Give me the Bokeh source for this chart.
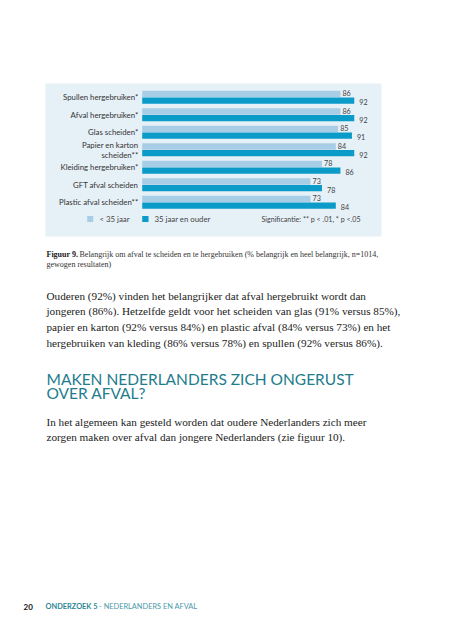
from bokeh.plotting import figure
from bokeh.models import Range1d, ColumnDataSource
from bokeh.core.properties import value
from bokeh.embed import file_html
from bokeh.resources import INLINE

# ---- data ----
categories = ["Spullen hergebruiken*", "Afval hergebruiken*", "Glas scheiden*",
              "Papier en karton\nscheiden**", "Kleiding hergebruiken*",
              "GFT afval scheiden", "Plastic afval scheiden**"]
young = [86, 86, 85, 84, 78, 73, 73]
older = [92, 92, 91, 92, 86, 78, 84]
legend_labels = ["< 35 jaar", "35 jaar en ouder"]
signif = "Significantie: ** p < .01, * p <.05"

caption_bold = "Figuur 9."
caption_lines = ["Belangrijk om afval te scheiden en te hergebruiken (% belangrijk en heel belangrijk, n=1014,",
                 "gewogen resultaten)"]
body1 = ["Ouderen (92%) vinden het belangrijker dat afval hergebruikt wordt dan",
         "jongeren (86%). Hetzelfde geldt voor het scheiden van glas (91% versus 85%),",
         "papier en karton (92% versus 84%) en plastic afval (84% versus 73%) en het",
         "hergebruiken van kleding (86% versus 78%) en spullen (92% versus 86%)."]
heading = ["MAKEN NEDERLANDERS ZICH ONGERUST", "OVER AFVAL?"]
body2 = ["In het algemeen kan gesteld worden dat oudere Nederlanders zich meer",
         "zorgen maken over afval dan jongere Nederlanders (zie figuur 10)."]
page_no = "20"
footer_bold = "ONDERZOEK 5"
footer_rest = " - NEDERLANDERS EN AFVAL"

# ---- styling ----
LIGHT = "#a8cde6"
DARK = "#0a9bc9"
BOX = "#e6f0f7"
TEAL = "#227c8c"
SANS = value("Lato")
SERIF = value("Liberation Serif")

W, H = 435, 624
# picture-pixel coordinate system
p = figure(width=W, height=H, output_backend="svg", toolbar_location=None,
           x_range=Range1d(0, W), y_range=Range1d(H, 0),
           x_axis_location=None, y_axis_location=None, min_border=0,
           background_fill_color="white", border_fill_color="white")
p.grid.visible = False
p.outline_line_color = None

# value scale: 0 at x 141.7, 2.305 px per percent
x0_px, ppu = 141.7, 2.305
p.extra_x_ranges = {"val": Range1d((0 - x0_px) / ppu, (W - x0_px) / ppu)}
# category scale: index 0 centred at y 96.8, 17.5 px per category
y0_px, pitch = 96.8, 17.5
p.extra_y_ranges = {"cat": Range1d((H - y0_px) / pitch, (0 - y0_px) / pitch)}

# chart background panel
p.quad(left=45, right=381, top=83, bottom=236, fill_color=BOX, line_color=None)

idx = list(range(len(categories)))
bh = 6.4 / pitch
off = 3.3 / pitch
src = ColumnDataSource(dict(
    i=idx, cat=categories, young=young, older=older,
    yl=[k - off for k in idx], yd=[k + off for k in idx],
    ylt=[str(v) for v in young], ydt=[str(v) for v in older],
    ydl=[k + off + 1.6 / pitch for k in idx], yll=[k - off - 0.8 / pitch for k in idx]))

p.hbar(y="yl", left=0, right="young", height=bh, source=src, fill_color=LIGHT,
       line_color=None, x_range_name="val", y_range_name="cat")
p.hbar(y="yd", left=0, right="older", height=bh, source=src, fill_color=DARK,
       line_color=None, x_range_name="val", y_range_name="cat")

p.text(x=0, y="i", text="cat", source=src, x_offset=-4, text_align="right",
       text_baseline="middle", text_font=SANS, text_font_size="7.8px",
       text_color="#333333", text_line_height=0.95,
       x_range_name="val", y_range_name="cat")
p.text(x="young", y="yll", text="ylt", source=src, x_offset=2, text_align="left",
       text_baseline="middle", text_font=SANS, text_font_size="7.2px",
       text_color="#444444", x_range_name="val", y_range_name="cat")
p.text(x="older", y="ydl", text="ydt", source=src, x_offset=5, text_align="left",
       text_baseline="middle", text_font=SANS, text_font_size="7.2px",
       text_color="#444444", x_range_name="val", y_range_name="cat")

# legend
p.quad(left=[86.7, 141.7], right=[92.7, 148.0], top=[215.5, 215.5], bottom=[221.5, 221.5],
       fill_color=[LIGHT, DARK], line_color=None)
p.text(x=[99, 154], y=[218.5, 218.5], text=legend_labels, text_baseline="middle",
       text_font=SANS, text_font_size="7.8px", text_color="#444444")
p.text(x=[261], y=[218.5], text=[signif], text_align="left", text_baseline="middle",
       text_font=SANS, text_font_size="7.1px", text_color="#444444")

# caption
p.text(x=[46], y=[253.5], text=[caption_bold], text_baseline="middle", text_font=SERIF,
       text_font_style="bold", text_font_size="8px", text_color="#222222")
p.text(x=[79, 46], y=[253.5, 263.5], text=caption_lines, text_baseline="middle",
       text_font=SERIF, text_font_size="8px", text_color="#333333")

# body text 1
p.text(x=[46] * 4, y=[295, 310.7, 326.3, 342], text=body1, text_baseline="middle",
       text_font=SERIF, text_font_size="11.2px", text_color="#222222")

# heading
p.text(x=[46, 46], y=[378, 392], text=heading, text_baseline="middle", text_font=SANS,
       text_font_size="15.5px", text_color=TEAL, text_line_height=1.0)

# body text 2
p.text(x=[46, 46], y=[421.7, 436.7], text=body2, text_baseline="middle",
       text_font=SERIF, text_font_size="11.2px", text_color="#222222")

# footer
p.text(x=[23], y=[606], text=[page_no], text_baseline="middle", text_font=SANS,
       text_font_style="bold", text_font_size="8px", text_color="#111111")
p.text(x=[45], y=[606], text=[footer_bold], text_baseline="middle", text_font=SANS,
       text_font_style="bold", text_font_size="7.4px", text_color="#2f8797")
p.text(x=[98.5], y=[606], text=[footer_rest], text_baseline="middle", text_font=SANS,
       text_font_size="7.4px", text_color="#4a9aaa")

open("out.html", "w").write(file_html(p, INLINE))
